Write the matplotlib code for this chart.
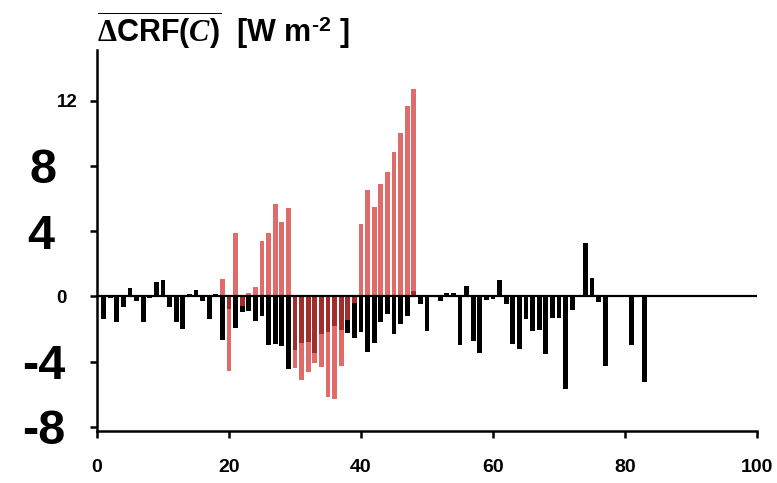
import matplotlib
matplotlib.use('Agg')
import matplotlib.pyplot as plt
import matplotlib.transforms as mtrans
import numpy as np

# black bars: x = 1..83
black_x = np.arange(1, 84)
black_vals = [-1.4, -0.1, -1.55, -0.62, 0.5, -0.3, -1.6, -0.1, 0.87, 1.0,
              -0.68, -1.56, -1.97, 0.15, 0.4, -0.3, -1.4, 0.15, -2.7, -0.75,
              -1.91, -0.93, -0.87, -1.49, -1.18, -2.96, -2.9, -3.02, -4.44, -3.28,
              -2.83, -2.8, -3.47, -2.28, -2.17, -1.79, -2.05, -2.27, -2.53, -2.16,
              -3.39, -2.83, -1.59, -1.05, -2.28, -1.72, -1.18, 0.3, -0.49, -2.15,
              0.0, -0.3, 0.21, 0.21, -2.97, 0.64, -2.71, -3.45, -0.24, -0.17,
              1.01, -0.44, -2.9, -3.2, -1.36, -2.1, -2.08, -3.55, -1.35, -1.35,
              -5.7, -0.85, 0.0, 3.27, 1.12, -0.36, -4.24, 0.1, 0.0, 0.0,
              -3.0, 0.0, -5.27]

# red bars: x = 19..48
red_x = np.arange(19, 49)
red_vals = [1.07, -4.55, 3.9, -0.58, 0.21, 0.58, 3.42, 3.9, 5.67, 4.57,
            5.43, -4.37, -5.1, -4.63, -4.06, -4.33, -6.15, -6.27, -4.24, -1.42,
            -0.38, 4.45, 6.53, 5.49, 6.9, 7.64, 8.87, 10.03, 11.69, 12.73]

x_ticks = [0, 20, 40, 60, 80, 100]
y_ticks = [-8, -4, 0, 4, 8, 12]
y_labels = ['-8', '-4', '0', '4', '8', '12']
y_sizes = [35, 35, 13.5, 35, 35, 13.5]
y_shift = [-35, -35, 0, -29, -27, 0]   # px, to line up with the reference

plt.rcParams['font.family'] = 'Liberation Sans'
plt.rcParams['font.weight'] = 'bold'
plt.rcParams['mathtext.fontset'] = 'custom'
plt.rcParams['mathtext.rm'] = 'Liberation Sans:bold'
plt.rcParams['mathtext.bf'] = 'Liberation Sans:bold'
plt.rcParams['mathtext.it'] = 'Liberation Serif:italic'
plt.rcParams['mathtext.sf'] = 'Liberation Serif'

fig = plt.figure(figsize=(7.77, 4.83), dpi=100)
ax = fig.add_axes([97 / 777, 1 - 431 / 483, 660 / 777, 381 / 483])

ax.bar(black_x, black_vals, width=0.7, color='black', zorder=2)
ax.bar(red_x, red_vals, width=0.75, color='#d63c3c', alpha=0.76, zorder=3)
ax.axhline(0, color='black', lw=1.6, zorder=4)

ax.set_xlim(0, 100)
ax.set_ylim(-8.25, 15.1)
for s in ['top', 'right']:
    ax.spines[s].set_visible(False)
for s in ['left', 'bottom']:
    ax.spines[s].set_linewidth(1.8)

ax.set_xticks(x_ticks)
ax.set_xticklabels([str(t) for t in x_ticks], fontsize=14, fontweight='bold')
ax.tick_params(direction='out', length=5, width=1.8)
ax.tick_params(axis='x', pad=15)
ax.tick_params(axis='y', pad=24)

ax.set_yticks(y_ticks)
ax.set_yticklabels(y_labels, fontweight='bold')
for lab, size, dx in zip(ax.get_yticklabels(), y_sizes, y_shift):
    lab.set_fontsize(size)
    lab.set_ha('left')
    lab.set_transform(lab.get_transform() + mtrans.ScaledTranslation(dx / 100, 0, fig.dpi_scale_trans))

fig.text(97 / 777, 1 - 43 / 483,
         r'$\overline{\mathsf{\Delta}\mathrm{CRF(}C\mathrm{)}}$  [W m$^{\text{-2}}$ ]',
         fontsize=22, fontweight='bold', va='baseline', ha='left')

fig.savefig('out.png', dpi=100)
